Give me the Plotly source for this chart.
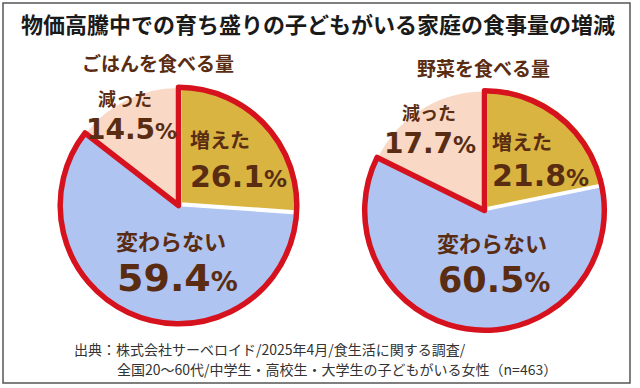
import plotly.graph_objects as go

# ---- data ----
title_text = "物価高騰中での育ち盛りの子どもがいる家庭の食事量の増減"
categories = ["増えた", "変わらない", "減った"]
rice_title = "ごはんを食べる量"
rice_values = [26.1, 59.4, 14.5]
veg_title = "野菜を食べる量"
veg_values = [21.8, 60.5, 17.7]
source_lines = [
    "出典：株式会社サーベロイド/2025年4月/食生活に関する調査/",
    "全国20～60代/中学生・高校生・大学生の子どもがいる女性（n=463）",
]

# ---- styles ----
W, H = 640, 388
slice_colors = ["#D9B440", "#B0C4F2", "#F9D9C5"]
red = "#D5121E"
brown = "#5A2D12"
jp_font = "Noto Sans CJK JP"
num_font = "DejaVu Sans"
pull = 0.03

fig = go.Figure()


def add_pie(values, cx, cy, R):
    # base pie (exploded "増えた" slice)
    half = R * (1 + pull)
    fig.add_trace(go.Pie(
        labels=categories, values=values, sort=False, direction="clockwise",
        rotation=0, pull=[pull, 0, 0],
        marker=dict(colors=slice_colors, line=dict(color="white", width=1.5)),
        textinfo="none", hoverinfo="skip", showlegend=False,
        domain=dict(x=[(cx - half) / W, (cx + half) / W],
                    y=[(H - cy - half) / H, (H - cy + half) / H]),
    ))
    # red outline around the "not decreased" group
    grouped = [values[0] + values[1], values[2]]
    fig.add_trace(go.Pie(
        labels=["増えた+変わらない", "減った"], values=grouped, sort=False,
        direction="clockwise", rotation=0,
        marker=dict(colors=["rgba(0,0,0,0)", "rgba(0,0,0,0)"],
                    line=dict(color=[red, "rgba(0,0,0,0)"], width=[5.5, 0])),
        textinfo="none", hoverinfo="skip", showlegend=False,
        domain=dict(x=[(cx - R) / W, (cx + R) / W],
                    y=[(H - cy - R) / H, (H - cy + R) / H]),
    ))


add_pie(rice_values, 178.5, 205.5, 118.3)
add_pie(veg_values, 484.5, 210.5, 119.8)


def ann(x, y, text, size, color=brown, family=jp_font, xanchor="center", bold=True):
    if bold:
        text = "<b>" + text + "</b>"
    fig.add_annotation(x=x, y=y, xref="x", yref="y", text=text, showarrow=False,
                       xanchor=xanchor, yanchor="middle", borderpad=0,
                       font=dict(family=family, size=size, color=color))


def num(v, pct):
    return f"{v}<span style='font-size:{pct}px'>%</span>"


# title and subtitles
ann(318, 23, title_text, 22, color="#1A1A1A")
ann(158, 62, rice_title, 19)
ann(483, 67, veg_title, 19)

# left pie labels
ann(125, 98, categories[2], 18)
ann(131, 129, num(rice_values[2], 22), 28, family=num_font)
ann(189, 139, categories[0], 20, xanchor="left")
ann(189, 176, num(rice_values[0], 23), 30, family=num_font, xanchor="left")
ann(171, 240, categories[1], 22)
ann(177, 278, num(rice_values[1], 27), 38, family=num_font)

# right pie labels
ann(429, 112, categories[2], 18)
ann(430, 143, num(veg_values[2], 23), 28, family=num_font)
ann(491, 141, categories[0], 20, xanchor="left")
ann(491, 175, num(veg_values[0], 23), 30, family=num_font, xanchor="left")
ann(492, 242, categories[1], 22)
ann(494, 280, num(veg_values[1], 26), 35, family=num_font)

# source lines
ann(73, 348.5, source_lines[0], 14, color="#333333", xanchor="left", bold=False)
ann(116, 369, source_lines[1], 14, color="#333333", xanchor="left", bold=False)

# frame
fig.add_shape(type="rect", x0=3, y0=3, x1=630, y1=383, xref="x", yref="y",
              line=dict(color="#555555", width=1.5), layer="above")

fig.update_layout(
    width=W, height=H, autosize=False,
    margin=dict(l=0, r=0, t=0, b=0),
    paper_bgcolor="white", plot_bgcolor="rgba(0,0,0,0)",
    xaxis=dict(range=[0, W], visible=False, fixedrange=True),
    yaxis=dict(range=[H, 0], visible=False, fixedrange=True),
    showlegend=False,
)

fig.write_html("out.html", config={"displayModeBar": False},
               post_script="document.body.style.margin='0';")
